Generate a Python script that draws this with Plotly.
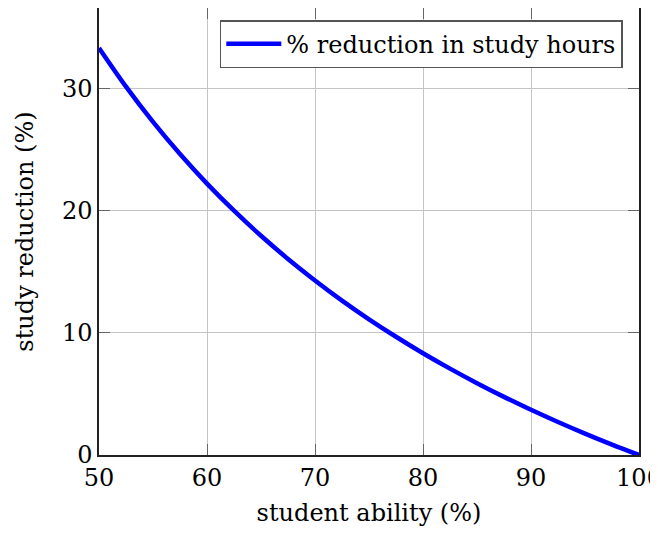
import plotly.graph_objects as go

ability = [50, 52.5, 55, 57.5, 60, 62.5, 65, 67.5, 70, 72.5, 75, 77.5, 80, 82.5, 85, 87.5, 90, 92.5, 95, 97.5, 100]
reduction = [33.33, 30.16, 27.27, 24.64, 22.22, 20.0, 17.95, 16.05, 14.29, 12.64, 11.11, 9.68, 8.33, 7.07, 5.88, 4.76, 3.70, 2.70, 1.75, 0.85, 0.0]
series_name = "% reduction in study hours"
x_ticks = [50, 60, 70, 80, 90, 100]
y_ticks = [0, 10, 20, 30]

FONT = "DejaVu Serif"
FS = 24

fig = go.Figure()
fig.add_trace(go.Scatter(
    x=ability, y=reduction, mode="lines", name=series_name,
    line=dict(color="#0000ff", width=4.5, shape="spline"),
))

axis_common = dict(
    showgrid=True, gridcolor="#c4c4c4", gridwidth=1,
    showline=True, linecolor="#222222", linewidth=1.5, mirror="allticks",
    ticks="inside", ticklen=11, tickcolor="#666666", tickwidth=1,
    zeroline=False, automargin=False,
    tickfont=dict(family=FONT, size=FS, color="black"),
)

fig.update_layout(
    width=650, height=525,
    margin=dict(l=91, r=19, t=0, b=78),
    paper_bgcolor="white", plot_bgcolor="white",
    font=dict(family=FONT, size=FS, color="black"),
    showlegend=True,
    legend=dict(
        x=0.970, y=0.973, xanchor="right", yanchor="top",
        bordercolor="#555555", borderwidth=1.5, bgcolor="white",
        font=dict(family=FONT, size=FS, color="black"),
        itemwidth=55,
    ),
    xaxis=dict(range=[50, 100], tickvals=x_ticks, ticklabeloverflow="allow",
               title=dict(text="student ability (%)", font=dict(family=FONT, size=FS), standoff=14),
               **axis_common),
    yaxis=dict(range=[0, 36.6], tickvals=y_ticks,
               title=dict(text="study reduction (%)", font=dict(family=FONT, size=FS), standoff=22),
               **axis_common),
)

fig.write_html("out.html")
